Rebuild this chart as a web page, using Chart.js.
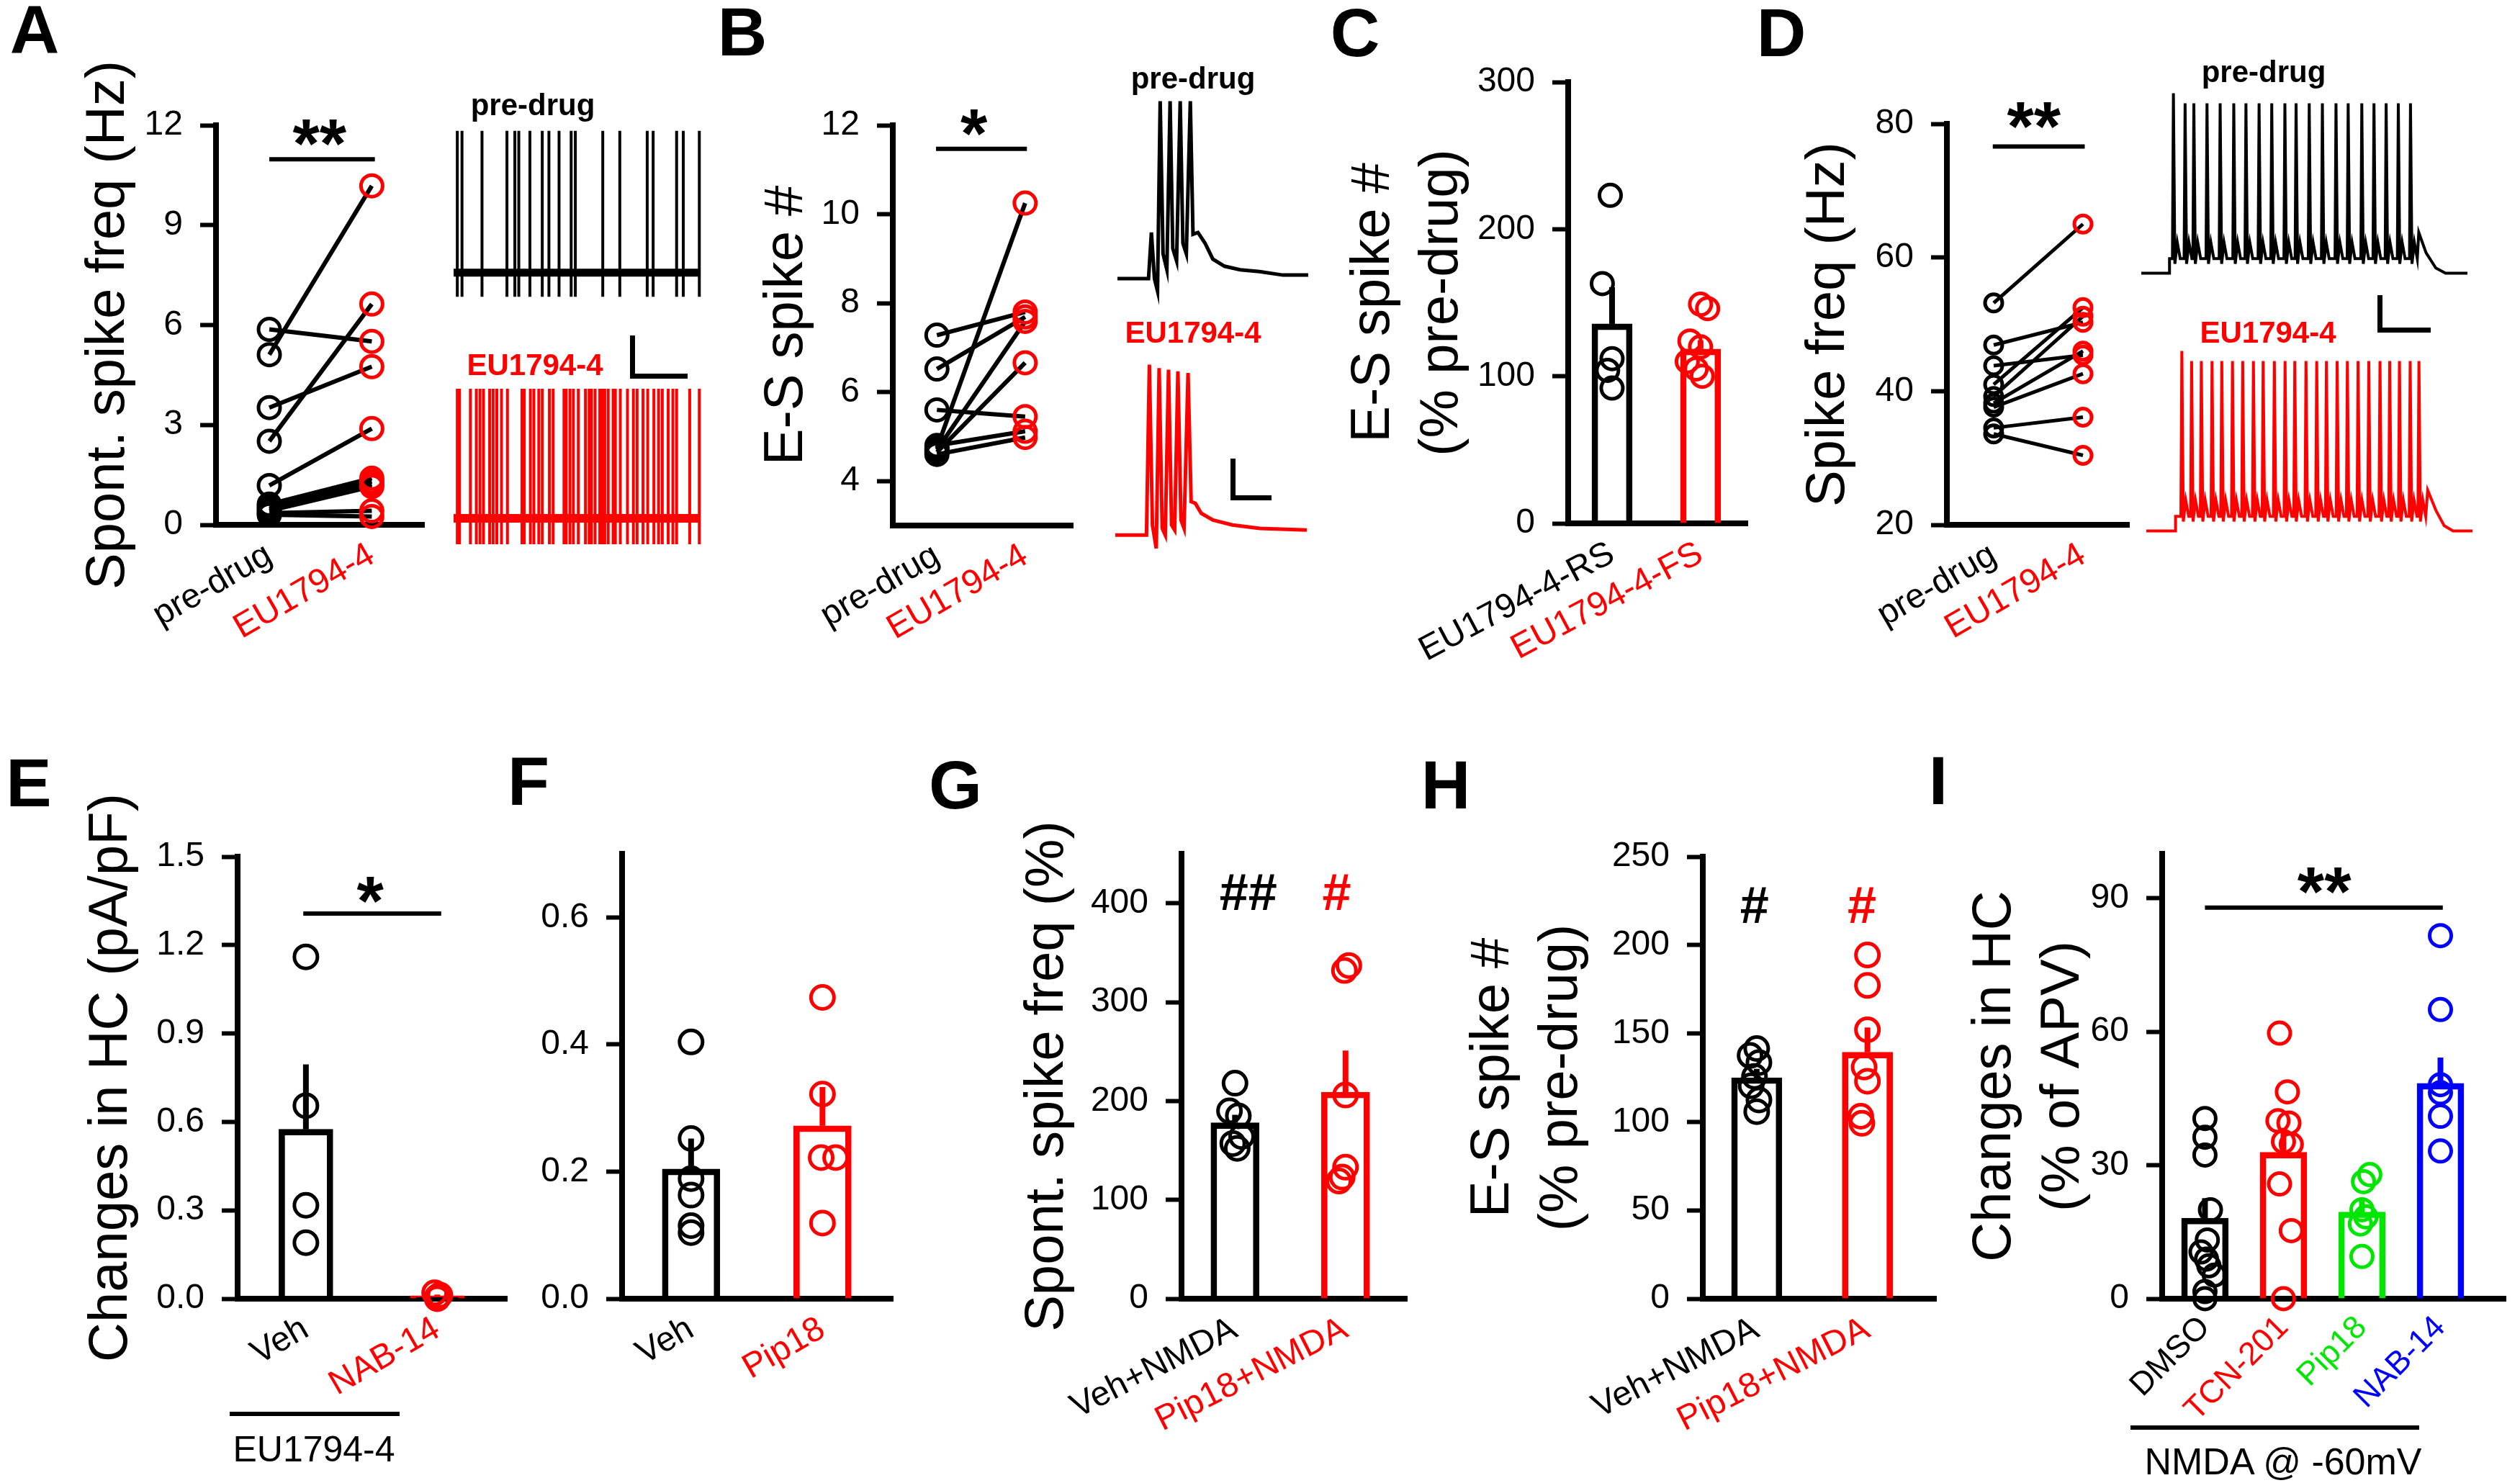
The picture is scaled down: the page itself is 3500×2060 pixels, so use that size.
<!DOCTYPE html>
<html>
<head>
<meta charset="utf-8">
<script src="https://cdn.jsdelivr.net/npm/chart.js@4.4.1/dist/chart.umd.min.js"></script>
<style>
  body { margin: 0; background: #fff; width: 3500px; height: 2060px; position: relative; overflow: hidden;
         font-family: Arial, 'Liberation Sans', Helvetica, sans-serif; }
  canvas { position: absolute; }
  .t { position: absolute; white-space: nowrap; line-height: 1; transform: translate(-50%, -50%); }
  .ln { position: absolute; background: #000; }
</style>
</head>
<body>
<script>
// ---------- data ----------
const BLACK = '#000000', RED = '#ff0000', GREEN = '#00e600', BLUE = '#0000ff';

// A: spontaneous spike frequency, paired
const pairCats = ['pre-drug', 'EU1794-4'];
const pairColors = [BLACK, RED];
const aPre = [5.87, 5.11, 3.52, 2.51, 1.18, 0.62, 0.55, 0.48, 0.42, 0.35, 0.30];
const aEU  = [5.51, 10.18, 4.75, 6.63, 2.89, 1.40, 1.30, 1.22, 1.15, 0.42, 0.25];
const aTicks = [0, 3, 6, 9, 12];
// A traces: spike times (% of sweep)
const aPreSpikes = [1.5, 3.4, 11.5, 21.6, 24.8, 26.4, 30.9, 35.9, 38.6, 42.7, 47.6, 49.3, 60.4, 67.3, 78.4, 80.8, 90.3, 93.0, 99.5];
const aEuSpikes = [1.5, 2.4, 6.8, 9.2, 10.7, 12.1, 14.6, 16.0, 17.5, 19.4, 21.8, 27.7, 28.6, 31.1, 32.5, 34.5, 35.9, 38.8,
  40.3, 44.7, 45.6, 47.1, 48.5, 50.5, 53.4, 54.9, 55.8, 57.3, 59.2, 60.2, 61.2, 62.6, 64.6, 65.5, 67.5, 70.4, 72.8, 74.3,
  76.7, 78.6, 81.1, 83.0, 84.5, 86.9, 88.8, 90.3, 95.6, 99.5];

// B: E-S spike number, paired
const bPre = [7.28, 6.52, 5.60, 4.74, 4.70, 4.65, 4.80, 4.60];
const bEU  = [7.80, 7.69, 5.45, 10.25, 7.59, 6.66, 5.12, 4.98];
const bTicks = [4, 6, 8, 10, 12];
// B traces: [time %, voltage % of spike peak]
const bPreTrace = [[0,0],[16.3,0],[17.8,26],[19.4,0],[21,-7],[22.4,100],[23.9,14],[25.9,5],[27.6,100],[29,17],[31,10],
  [32.9,100],[34.3,20],[36.1,14],[38.2,100],[39.6,25],[42.2,26],[45.9,20],[50,11],[56.1,7],[64.3,5],[74.5,4],[86.7,2],[100,2]];
const bEuTrace = [[0,0],[16.3,0],[17.8,102],[19.4,6],[21.4,-8],[22.9,100],[24.5,4],[26.1,0],[27.8,99],[29.4,6],[31,3],
  [32.7,98],[34.3,9],[35.9,4],[38,97],[39.6,20],[41.8,19],[44.9,13],[51,9],[61.2,6],[75.5,4],[100,3]];

// C: E-S spike # (% pre-drug)
const cCats = ['EU1794-4-RS', 'EU1794-4-FS'];
const cColors = [BLACK, RED];
const cMeans = [135.6, 118.5];
const cSems = [25, 6];
const cDots = [[223, 163, 112, 104, 92], [149, 146, 124, 120, 110, 105, 100]];
const cJitter = [[-0.02, -0.11, 0, -0.05, 0], [0, 0.08, -0.12, 0, -0.15, -0.05, 0.02]];
const cTicks = [0, 100, 200, 300];

// D: spike frequency, paired
const dPre = [53.2, 46.9, 43.8, 41.0, 39.2, 38.2, 37.6, 34.5, 33.6];
const dEU  = [65.0, 50.3, 45.4, 52.5, 51.2, 46.0, 42.6, 36.1, 30.4];
const dTicks = [20, 40, 60, 80];
// D traces: spike times (ms-like units), levels in % of spike peak
const dPreSpikes = [66, 90, 108, 135, 162, 190, 215, 242, 268, 295, 318, 345, 372, 400, 425, 453, 478, 503, 528, 553];
const dEuSpikes = [73, 93, 113, 135, 155, 177, 198, 220, 240, 263, 285, 305, 328, 350, 370, 392, 413, 435, 457, 480, 500, 520, 542, 560];
const dStepOn = [58, 60];
const dLevels = [8.5, 18, 100, 106]; // trough, hump, peak, first peak
const dPreTail = [[570,24],[585,12],[605,3],[625,0],[670,0]];
const dEuTail = [[578,24],[595,12],[612,3],[630,0],[670,0]];

// E: changes in HC (pA/pF)
const eCats = ['Veh', 'NAB-14'];
const eColors = [BLACK, RED];
const eMeans = [0.575, 0.01];
const eSems = [0.22, 0.004];
const eDots = [[1.16, 0.655, 0.317, 0.19], [0.02, 0.012, 0.006, 0.0]];
const eJitter = [[0, 0, 0, 0], [-0.02, 0.02, 0, 0]];
const eTicks = [0, 0.3, 0.6, 0.9, 1.2, 1.5];

// F
const fCats = ['Veh', 'Pip18'];
const fColors = [BLACK, RED];
const fMeans = [0.204, 0.272];
const fSems = [0.048, 0.061];
const fDots = [[0.404, 0.252, 0.189, 0.163, 0.115, 0.104], [0.474, 0.322, 0.222, 0.222, 0.119]];
const fJitter = [[0, 0, 0, 0, 0, 0], [0, 0, -0.01, 0.1, 0]];
const fTicks = [0, 0.2, 0.4, 0.6];

// G: spont. spike freq (%)
const nmdaCats = ['Veh+NMDA', 'Pip18+NMDA'];
const nmdaColors = [BLACK, RED];
const gMeans = [178, 209];
const gSems = [8, 42];
const gDots = [[218, 190, 185, 164, 157, 152], [337, 332, 206, 133, 123, 119]];
const gJitter = [[0, -0.05, 0.03, 0.06, -0.02, 0.02], [0.03, -0.01, 0, 0, -0.03, -0.06]];
const gTicks = [0, 100, 200, 300, 400];

// H: E-S spike # (% pre-drug)
const hMeans = [125, 139.4];
const hSems = [5, 14];
const hDots = [[141.5, 137.6, 133.6, 125.7, 120.4, 112.4, 105.8], [194.4, 177.2, 152.1, 131, 123, 103.2, 99.2]];
const hJitter = [[0, -0.06, 0.02, -0.02, -0.05, 0.02, 0], [0, 0, 0, -0.03, 0, -0.06, -0.05]];
const hTicks = [0, 50, 100, 150, 200, 250];

// I: changes in HC (% of APV)
const iCats = ['DMSO', 'TCN-201', 'Pip18', 'NAB-14'];
const iColors = [BLACK, RED, GREEN, BLUE];
const iMeans = [18.1, 32.9, 19.5, 48.4];
const iSems = [4.5, 5.5, 2.5, 5.8];
const iDots = [[40.5, 36.3, 32.3, 20, 13.2, 10.5, 8.9, 7.4, 5.3, 1.6, 0],
               [59.7, 46.5, 40, 39.5, 35.3, 34.7, 25.8, 15.3, 0],
               [27.9, 26.3, 20, 18.4, 16.8, 9.5],
               [81.6, 65, 48.1, 46.3, 41, 33.2]];
const iJitter = [[0, 0, 0, 0.07, 0.03, -0.05, 0.02, 0.05, 0.12, 0, 0],
                 [-0.05, 0.05, -0.07, 0.07, 0, 0.1, -0.05, 0.1, 0],
                 [0.1, 0.02, 0, 0.05, -0.02, 0],
                 [0, 0, 0, 0, 0, 0]];
const iTicks = [0, 30, 60, 90];

// ---------- setup ----------
const FONT = "Arial, 'Liberation Sans', Helvetica, sans-serif";
Chart.defaults.font.family = FONT;
Chart.defaults.color = '#000';

// text marks (asterisks, #) placed in data coordinates
Chart.register({
  id: 'notes',
  afterDatasetsDraw(chart, args, opts) {
    const {ctx, scales} = chart;
    (opts.items || []).forEach(n => {
      ctx.save();
      ctx.font = n.font;
      ctx.fillStyle = n.color || '#000';
      ctx.textAlign = 'center';
      ctx.textBaseline = 'alphabetic';
      ctx.fillText(n.text, scales.x.getPixelForValue(n.x), scales.y.getPixelForValue(n.y));
      ctx.restore();
    });
  }
});

function mkCanvas(l, t, w, h) {
  const cv = document.createElement('canvas');
  cv.width = w; cv.height = h;
  cv.style.left = l + 'px'; cv.style.top = t + 'px';
  cv.style.width = w + 'px'; cv.style.height = h + 'px';
  document.body.appendChild(cv);
  return cv;
}

function txt(s, cx, cy, size, color, bold) {
  const d = document.createElement('div');
  d.className = 't';
  d.textContent = s;
  d.style.left = cx + 'px'; d.style.top = cy + 'px';
  d.style.fontSize = size + 'px';
  d.style.color = color || '#000';
  d.style.fontWeight = bold ? 'bold' : 'normal';
  document.body.appendChild(d);
}

function rule(l, t, w, h) {
  const d = document.createElement('div');
  d.className = 'ln';
  d.style.left = l + 'px'; d.style.top = t + 'px';
  d.style.width = w + 'px'; d.style.height = h + 'px';
  document.body.appendChild(d);
}

function yAxis(ticks, dec, min, max, L, title) {
  return {
    type: 'linear', min: min, max: max,
    afterBuildTicks: s => { s.ticks = ticks.map(v => ({value: v})); },
    afterFit: s => { s.width = L; },
    ticks: {font: {size: 48}, color: '#000', padding: 24, callback: v => Number(v).toFixed(dec)},
    grid: {display: true, drawOnChartArea: false, drawTicks: true, tickLength: 22, tickWidth: 6, tickColor: '#000'},
    border: {display: true, width: 8, color: '#000'},
    title: title ? {display: true, text: title, color: '#000', font: {size: 76, lineHeight: 1.25}, padding: {top: 4, bottom: 4}}
                 : {display: false}
  };
}

function xAxis(cats, colors, min, max, rot, B, size) {
  return {
    type: 'linear', min: min, max: max, offset: false,
    afterBuildTicks: s => { s.ticks = cats.map((c, i) => ({value: i})); },
    afterFit: s => { s.height = B; },
    ticks: {autoSkip: false, minRotation: rot, maxRotation: rot, padding: 14, font: {size: size || 48},
            color: c => colors[c.index], callback: (v, i) => cats[i]},
    grid: {display: false, drawTicks: false},
    border: {display: true, width: 8, color: '#000'}
  };
}

function sigSet(x0, x1, y) {
  return {type: 'line', data: [{x: x0, y: y}, {x: x1, y: y}], borderColor: '#000', borderWidth: 6,
          pointRadius: 0, clip: false, order: 1};
}

function pairedSets(pre, post, lw, r) {
  const sets = [];
  [pre, post].forEach((arr, g) => sets.push({
    type: 'scatter', data: arr.map(v => ({x: g, y: v})), pointRadius: r, pointBorderWidth: 5,
    pointBorderColor: pairColors[g], pointBackgroundColor: 'rgba(0,0,0,0)', clip: false, order: 0
  }));
  pre.forEach((v, i) => sets.push({
    type: 'line', data: [{x: 0, y: v}, {x: 1, y: post[i]}], borderColor: '#000', borderWidth: lw,
    pointRadius: 0, clip: false, order: 2
  }));
  return sets;
}

function barSets(means, sems, dots, jitter, colors, thick, r) {
  const sets = [];
  dots.forEach((g, i) => sets.push({
    type: 'scatter', data: g.map((v, k) => ({x: i + jitter[i][k], y: v})), pointRadius: r, pointBorderWidth: 5,
    pointBorderColor: colors[i], pointBackgroundColor: 'rgba(0,0,0,0)', clip: false, order: 0
  }));
  means.forEach((m, i) => sets.push({
    type: 'line', data: [{x: i, y: m}, {x: i, y: m + sems[i]}], borderColor: colors[i], borderWidth: 8,
    pointRadius: 0, clip: false, order: 2
  }));
  sets.push({
    type: 'bar', data: means.map((m, i) => ({x: i, y: m})), backgroundColor: 'rgba(0,0,0,0)',
    borderColor: colors, borderWidth: 8, barThickness: thick, clip: false, order: 3
  });
  return sets;
}

// area = [left, top, right, bottom] of the plotting box; left = canvas left edge (title side)
function plot(o) {
  const T = 130, B = 240;
  const R = o.R === undefined ? 20 : o.R;
  const [l, t, r, b] = o.area;
  const cv = mkCanvas(o.left, t - T, r - o.left + R, b - t + T + B);
  new Chart(cv, {
    type: o.type,
    data: {datasets: o.sets},
    options: {
      responsive: false, animation: false, events: [], devicePixelRatio: 1,
      layout: {padding: {left: 0, top: T, right: R, bottom: 0}},
      plugins: {legend: {display: false}, tooltip: {enabled: false}, notes: {items: o.notes || []}},
      scales: {
        x: xAxis(o.cats, o.colors, o.xr[0], o.xr[1], o.rot, B, o.xFont),
        y: yAxis(o.ticks, o.dec || 0, o.yr[0], o.yr[1], l - o.left, o.title)
      }
    }
  });
}

function trace(box, xr, yr, sets) {
  const p = 10;
  const cv = mkCanvas(box[0] - p, box[1] - p, box[2] + 2 * p, box[3] + 2 * p);
  new Chart(cv, {
    type: 'line',
    data: {datasets: sets.map(s => ({
      data: s.pts.map(q => ({x: q[0], y: q[1]})), borderColor: s.color, borderWidth: s.w,
      pointRadius: 0, tension: 0, clip: false
    }))},
    options: {
      responsive: false, animation: false, events: [], devicePixelRatio: 1,
      layout: {padding: p},
      plugins: {legend: {display: false}, tooltip: {enabled: false}},
      scales: {x: {type: 'linear', display: false, min: xr[0], max: xr[1]},
               y: {type: 'linear', display: false, min: yr[0], max: yr[1]}}
    }
  });
}

function spikeTrain(times, peak, low) {
  const pts = [[0, 0]];
  times.forEach(t => pts.push([t, 0], [t, peak], [t, low], [t, 0]));
  pts.push([100, 0]);
  return pts;
}

function burst(spikes, on, tail) {
  const [trough, hump, peak, first] = dLevels;
  const pts = [[0, 0], [on, 0], [on, trough]];
  spikes.forEach((t, i) => {
    pts.push([t - 2, trough], [t, i === 0 ? first : peak], [t + 3, trough - 3], [t + 8, hump], [t + 14, trough]);
  });
  return pts.concat(tail);
}

const AST = 'bold 96px ' + FONT;
const HASH = 'bold 72px ' + FONT;

// ---------- panel A ----------
plot({type: 'scatter', left: 100, area: [300, 174, 589, 729], xr: [-0.52, 1.51], yr: [0, 12], ticks: aTicks,
  cats: pairCats, colors: pairColors, rot: 30, title: 'Spont. spike freq (Hz)',
  sets: [sigSet(0, 1.03, 10.98)].concat(pairedSets(aPre, aEU, 6, 15)),
  notes: [{text: '**', x: 0.49, y: 10.75, font: AST}]});
trace([630, 172, 343, 256], [0, 100], [-25, 105], [
  {pts: [[0, 0], [100, 0]], color: BLACK, w: 11},
  {pts: spikeTrain(aPreSpikes, 100, -17), color: BLACK, w: 4}]);
trace([630, 531, 343, 234], [0, 100], [-25, 105], [
  {pts: [[0, 0], [100, 0]], color: RED, w: 12},
  {pts: spikeTrain(aEuSpikes, 100, -20), color: RED, w: 4}]);

// ---------- panel B ----------
plot({type: 'scatter', left: 1042, area: [1240, 174, 1490, 730], xr: [-0.50, 1.54], yr: [3, 12], ticks: bTicks,
  cats: pairCats, colors: pairColors, rot: 30, title: 'E-S spike #',
  sets: [sigSet(-0.01, 1.02, 11.47)].concat(pairedSets(bPre, bEU, 6, 15)),
  notes: [{text: '*', x: 0.42, y: 11.29, font: AST}]});
trace([1552, 116, 265, 308], [0, 100], [-15, 110], [{pts: bPreTrace, color: BLACK, w: 5}]);
trace([1549, 488, 266, 290], [0, 100], [-15, 110], [{pts: bEuTrace, color: RED, w: 5}]);

// ---------- panel C ----------
plot({type: 'bar', left: 1857, area: [2178, 114, 2427, 727], xr: [-0.496, 1.53], yr: [0, 300], ticks: cTicks,
  cats: cCats, colors: cColors, rot: 28, title: ['E-S spike #', '(% pre-drug)'],
  sets: barSets(cMeans, cSems, cDots, cJitter, cColors, 56, 15)});

// ---------- panel D ----------
plot({type: 'scatter', left: 2489, area: [2704, 172, 2957, 729], xr: [-0.524, 1.516], yr: [20, 80], ticks: dTicks,
  cats: pairCats, colors: pairColors, rot: 30, title: 'Spike freq (Hz)',
  sets: [sigSet(-0.01, 1.02, 76.6)].concat(pairedSets(dPre, dEU, 5, 12)),
  notes: [{text: '**', x: 0.45, y: 76.12, font: AST}]});
trace([2974, 120, 453, 283], [0, 670], [-10, 110], [{pts: burst(dPreSpikes, dStepOn[0], dPreTail), color: BLACK, w: 4}]);
trace([2981, 478, 453, 283], [0, 670], [-10, 110], [{pts: burst(dEuSpikes, dStepOn[1], dEuTail), color: RED, w: 4}]);

// ---------- panel E ----------
plot({type: 'bar', left: 104, area: [330, 1190, 705, 1804], xr: [-0.52, 1.53], yr: [0, 1.5], ticks: eTicks, dec: 1,
  cats: eCats, colors: eColors, rot: 30, title: 'Changes in HC (pA/pF)',
  sets: [sigSet(-0.02, 1.03, 1.307)].concat(barSets(eMeans, eSems, eDots, eJitter, eColors, 75, 16)),
  notes: [{text: '*', x: 0.49, y: 1.270, font: AST}]});

// ---------- panel F ----------
plot({type: 'bar', left: 734, area: [864, 1186, 1241, 1804], xr: [-0.525, 1.535], yr: [0, 0.7], ticks: fTicks, dec: 1,
  cats: fCats, colors: fColors, rot: 30, title: null,
  sets: barSets(fMeans, fSems, fDots, fJitter, fColors, 80, 16)});

// ---------- panel G ----------
plot({type: 'bar', left: 1404, area: [1641, 1186, 1955, 1804], xr: [-0.484, 1.555], yr: [0, 450], ticks: gTicks,
  cats: nmdaCats, colors: nmdaColors, rot: 27, title: 'Spont. spike freq (%)',
  sets: barSets(gMeans, gSems, gDots, gJitter, nmdaColors, 67, 16),
  notes: [{text: '##', x: 0.12, y: 393, font: HASH}, {text: '#', x: 0.92, y: 393, font: HASH, color: RED}]});

// ---------- panel H ----------
plot({type: 'bar', left: 2023, area: [2365, 1190, 2690, 1804], xr: [-0.487, 1.62], yr: [0, 250], ticks: hTicks,
  cats: nmdaCats, colors: nmdaColors, rot: 27, title: ['E-S spike #', '(% pre-drug)'],
  sets: barSets(hMeans, hSems, hDots, hJitter, nmdaColors, 70, 16),
  notes: [{text: '#', x: -0.02, y: 212.5, font: HASH}, {text: '#', x: 0.95, y: 212.5, font: HASH, color: RED}]});

// ---------- panel I ----------
plot({type: 'bar', left: 2720, R: 0, area: [3003, 1186, 3500, 1804], xr: [-0.545, 3.83], yr: [0, 100], ticks: iTicks,
  cats: iCats, colors: iColors, rot: 45, xFont: 45, title: ['Changes in HC', '(% of APV)'],
  sets: [sigSet(0, 3.03, 87.9)].concat(barSets(iMeans, iSems, iDots, iJitter, iColors, 65, 15)),
  notes: [{text: '**', x: 1.52, y: 86.3, font: AST}]});

// ---------- panel letters, trace labels, scale bars ----------
[['A', 48, 41], ['B', 1031, 44], ['C', 1882, 45], ['D', 2474, 45],
 ['E', 40, 1087], ['F', 734, 1085], ['G', 1327, 1090], ['H', 2008, 1090], ['I', 2692, 1084]]
  .forEach(p => txt(p[0], p[1], p[2], 95, '#000', true));

txt('pre-drug', 740, 146, 42, BLACK, true);
txt('EU1794-4', 743, 507, 42, RED, true);
txt('pre-drug', 1657, 109, 42, BLACK, true);
txt('EU1794-4', 1657, 462, 42, RED, true);
txt('pre-drug', 3144, 100, 42, BLACK, true);
txt('EU1794-4', 3150, 462, 42, RED, true);

rule(875, 466, 7, 60); rule(875, 519, 80, 7);
rule(1709, 637, 7, 56); rule(1709, 688, 57, 7);
rule(3302, 410, 7, 52); rule(3302, 455, 74, 7);

rule(319, 1961, 236, 6);
txt('EU1794-4', 436, 2013, 50, BLACK, false);
rule(2959, 1980, 401, 6);
txt('NMDA @ -60mV', 3171, 2030, 52, BLACK, false);
</script>
</body>
</html>
